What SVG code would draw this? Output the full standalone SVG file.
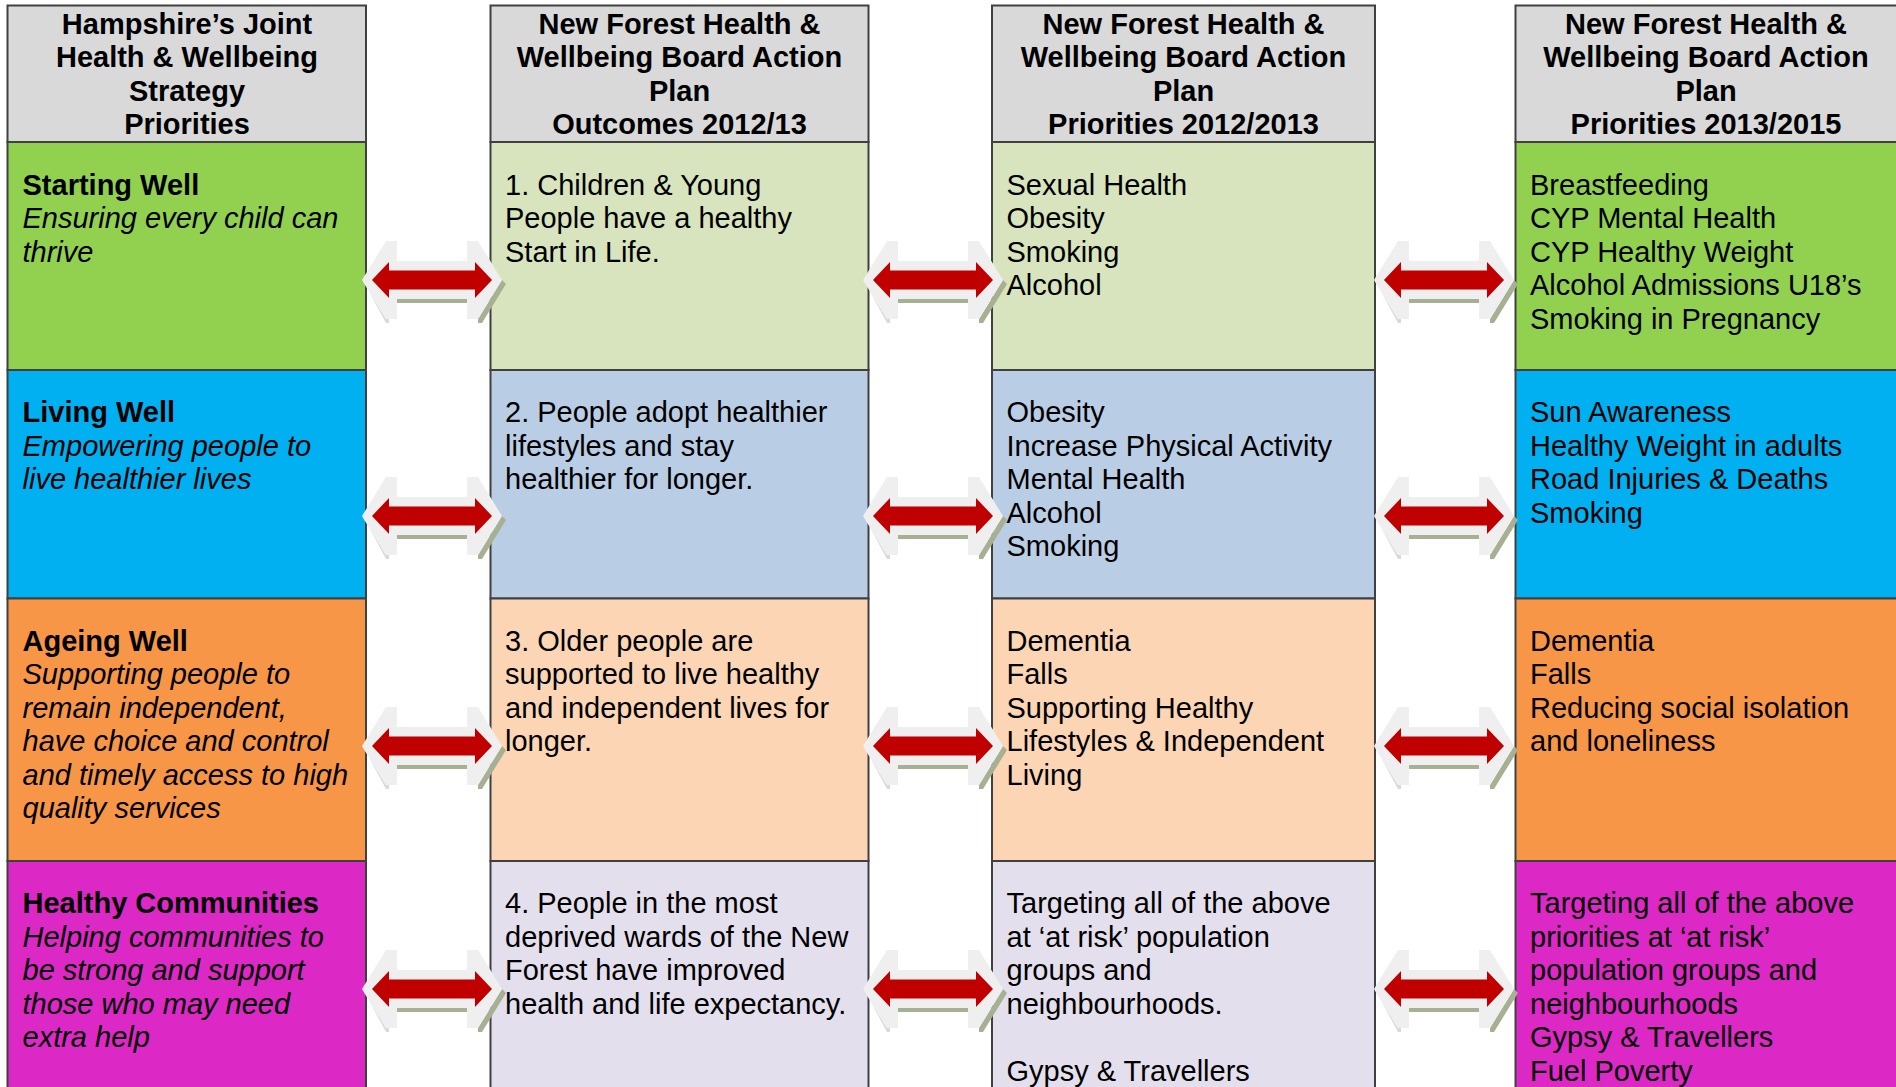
<svg xmlns="http://www.w3.org/2000/svg" xmlns:xlink="http://www.w3.org/1999/xlink" width="1896" height="1087" viewBox="0 0 1896 1087">
<style>
.t{font-family:"Liberation Sans",Arial,sans-serif;font-size:29px;fill:#000}
.h{font-weight:bold;text-anchor:middle}
.b{font-weight:bold}
.i{font-style:italic}
.cell{stroke:#404040;stroke-width:2}
.hd{fill:#d9d9d9}
.g1{fill:#92d050}.b1{fill:#00b0f0}.o1{fill:#f79646}.m1{fill:#dc28c4}
.g2{fill:#d7e4bd}.b2{fill:#b9cde5}.o2{fill:#fcd5b5}.m2{fill:#e4dfec}
</style>
<defs>
<g id="arrow">
<polygon points="-70,0 -67,4 -46,43 -43,43 -43,39 -46,39" fill="#dadada"/>
<rect x="-35" y="19" width="70" height="4" fill="#a7b092"/>
<polygon points="70,0 74,4 50,43 46,43 46,39" fill="#a7b092"/>
<path d="M-70,0 L-46,-39 L-35,-39 L-35,-19 L35,-19 L35,-39 L46,-39 L70,0 L46,39 L35,39 L35,19 L-35,19 L-35,39 L-46,39 Z" fill="#efefef"/>
<path d="M-60,0 L-43,-18 L-43,-9.5 L43,-9.5 L43,-18 L60,0 L43,18 L43,9.5 L-43,9.5 L-43,18 Z" fill="#c00000"/>
</g>
</defs>
<rect width="1896" height="1087" fill="#fff"/>

<g id="col1">
<g id="c1-header"><rect class="cell hd" x="7.5" y="5.5" width="358.5" height="136.5"/>
<text class="t h" x="187" y="33.5">Hampshire’s Joint</text><text class="t h" x="187" y="67">Health &amp; Wellbeing</text><text class="t h" x="187" y="100.5">Strategy</text><text class="t h" x="187" y="134">Priorities</text></g>
<g id="c1-r1"><rect class="cell g1" x="7.5" y="142" width="358.5" height="228"/>
<text class="t" x="22.5" y="194.5"><tspan class="b">Starting Well</tspan><tspan class="i" x="22.5" dy="33.5">Ensuring every child can</tspan><tspan class="i" x="22.5" dy="33.5">thrive</tspan></text></g>
<g id="c1-r2"><rect class="cell b1" x="7.5" y="370" width="358.5" height="228.5"/>
<text class="t" x="22.5" y="422"><tspan class="b">Living Well</tspan><tspan class="i" x="22.5" dy="33.5">Empowering people to</tspan><tspan class="i" x="22.5" dy="33.5">live healthier lives</tspan></text></g>
<g id="c1-r3"><rect class="cell o1" x="7.5" y="598.5" width="358.5" height="262.5"/>
<text class="t" x="22.5" y="650.5"><tspan class="b">Ageing Well</tspan><tspan class="i" x="22.5" dy="33.5">Supporting people to</tspan><tspan class="i" x="22.5" dy="33.5">remain independent,</tspan><tspan class="i" x="22.5" dy="33.5">have choice and control</tspan><tspan class="i" x="22.5" dy="33.5">and timely access to high</tspan><tspan class="i" x="22.5" dy="33.5">quality services</tspan></text></g>
<g id="c1-r4"><rect class="cell m1" x="7.5" y="861" width="358.5" height="240"/>
<text class="t" x="22.5" y="913"><tspan class="b">Healthy Communities</tspan><tspan class="i" x="22.5" dy="33.5">Helping communities to</tspan><tspan class="i" x="22.5" dy="33.5">be strong and support</tspan><tspan class="i" x="22.5" dy="33.5">those who may need</tspan><tspan class="i" x="22.5" dy="33.5">extra help</tspan></text></g>
</g>

<g id="col2">
<g id="c2-header"><rect class="cell hd" x="490.5" y="5.5" width="378" height="136.5"/>
<text class="t h" x="679.5" y="33.5">New Forest Health &amp;</text><text class="t h" x="679.5" y="67">Wellbeing Board Action</text><text class="t h" x="679.5" y="100.5">Plan</text><text class="t h" x="679.5" y="134">Outcomes 2012/13</text></g>
<g id="c2-r1"><rect class="cell g2" x="490.5" y="142" width="378" height="228"/>
<text class="t" x="505" y="194.5"><tspan>1. Children &amp; Young</tspan><tspan x="505" dy="33.5">People have a healthy</tspan><tspan x="505" dy="33.5">Start in Life.</tspan></text></g>
<g id="c2-r2"><rect class="cell b2" x="490.5" y="370" width="378" height="228.5"/>
<text class="t" x="505" y="422"><tspan>2. People adopt healthier</tspan><tspan x="505" dy="33.5">lifestyles and stay</tspan><tspan x="505" dy="33.5">healthier for longer.</tspan></text></g>
<g id="c2-r3"><rect class="cell o2" x="490.5" y="598.5" width="378" height="262.5"/>
<text class="t" x="505" y="650.5"><tspan>3. Older people are</tspan><tspan x="505" dy="33.5">supported to live healthy</tspan><tspan x="505" dy="33.5">and independent lives for</tspan><tspan x="505" dy="33.5">longer.</tspan></text></g>
<g id="c2-r4"><rect class="cell m2" x="490.5" y="861" width="378" height="240"/>
<text class="t" x="505" y="913"><tspan>4. People in the most</tspan><tspan x="505" dy="33.5">deprived wards of the New</tspan><tspan x="505" dy="33.5">Forest have improved</tspan><tspan x="505" dy="33.5">health and life expectancy.</tspan></text></g>
</g>

<g id="col3">
<g id="c3-header"><rect class="cell hd" x="992" y="5.5" width="383" height="136.5"/>
<text class="t h" x="1183.5" y="33.5">New Forest Health &amp;</text><text class="t h" x="1183.5" y="67">Wellbeing Board Action</text><text class="t h" x="1183.5" y="100.5">Plan</text><text class="t h" x="1183.5" y="134">Priorities 2012/2013</text></g>
<g id="c3-r1"><rect class="cell g2" x="992" y="142" width="383" height="228"/>
<text class="t" x="1006.5" y="194.5"><tspan>Sexual Health</tspan><tspan x="1006.5" dy="33.5">Obesity</tspan><tspan x="1006.5" dy="33.5">Smoking</tspan><tspan x="1006.5" dy="33.5">Alcohol</tspan></text></g>
<g id="c3-r2"><rect class="cell b2" x="992" y="370" width="383" height="228.5"/>
<text class="t" x="1006.5" y="422"><tspan>Obesity</tspan><tspan x="1006.5" dy="33.5">Increase Physical Activity</tspan><tspan x="1006.5" dy="33.5">Mental Health</tspan><tspan x="1006.5" dy="33.5">Alcohol</tspan><tspan x="1006.5" dy="33.5">Smoking</tspan></text></g>
<g id="c3-r3"><rect class="cell o2" x="992" y="598.5" width="383" height="262.5"/>
<text class="t" x="1006.5" y="650.5"><tspan>Dementia</tspan><tspan x="1006.5" dy="33.5">Falls</tspan><tspan x="1006.5" dy="33.5">Supporting Healthy</tspan><tspan x="1006.5" dy="33.5">Lifestyles &amp; Independent</tspan><tspan x="1006.5" dy="33.5">Living</tspan></text></g>
<g id="c3-r4"><rect class="cell m2" x="992" y="861" width="383" height="240"/>
<text class="t" x="1006.5" y="913"><tspan>Targeting all of the above</tspan><tspan x="1006.5" dy="33.5">at ‘at risk’ population</tspan><tspan x="1006.5" dy="33.5">groups and</tspan><tspan x="1006.5" dy="33.5">neighbourhoods.</tspan><tspan x="1006.5" dy="67">Gypsy &amp; Travellers</tspan></text></g>
</g>

<g id="col4">
<g id="c4-header"><rect class="cell hd" x="1515.5" y="5.5" width="390" height="136.5"/>
<text class="t h" x="1706" y="33.5">New Forest Health &amp;</text><text class="t h" x="1706" y="67">Wellbeing Board Action</text><text class="t h" x="1706" y="100.5">Plan</text><text class="t h" x="1706" y="134">Priorities 2013/2015</text></g>
<g id="c4-r1"><rect class="cell g1" x="1515.5" y="142" width="390" height="228"/>
<text class="t" x="1530" y="194.5"><tspan>Breastfeeding</tspan><tspan x="1530" dy="33.5">CYP Mental Health</tspan><tspan x="1530" dy="33.5">CYP Healthy Weight</tspan><tspan x="1530" dy="33.5">Alcohol Admissions U18’s</tspan><tspan x="1530" dy="33.5">Smoking in Pregnancy</tspan></text></g>
<g id="c4-r2"><rect class="cell b1" x="1515.5" y="370" width="390" height="228.5"/>
<text class="t" x="1530" y="422"><tspan>Sun Awareness</tspan><tspan x="1530" dy="33.5">Healthy Weight in adults</tspan><tspan x="1530" dy="33.5">Road Injuries &amp; Deaths</tspan><tspan x="1530" dy="33.5">Smoking</tspan></text></g>
<g id="c4-r3"><rect class="cell o1" x="1515.5" y="598.5" width="390" height="262.5"/>
<text class="t" x="1530" y="650.5"><tspan>Dementia</tspan><tspan x="1530" dy="33.5">Falls</tspan><tspan x="1530" dy="33.5">Reducing social isolation</tspan><tspan x="1530" dy="33.5">and loneliness</tspan></text></g>
<g id="c4-r4"><rect class="cell m1" x="1515.5" y="861" width="390" height="240"/>
<text class="t" x="1530" y="913"><tspan>Targeting all of the above</tspan><tspan x="1530" dy="33.5">priorities at ‘at risk’</tspan><tspan x="1530" dy="33.5">population groups and</tspan><tspan x="1530" dy="33.5">neighbourhoods</tspan><tspan x="1530" dy="33.5">Gypsy &amp; Travellers</tspan><tspan x="1530" dy="33.5">Fuel Poverty</tspan></text></g>
</g>

<g id="connectors">
<use xlink:href="#arrow" href="#arrow" x="432" y="280"/>
<use xlink:href="#arrow" href="#arrow" x="933" y="280"/>
<use xlink:href="#arrow" href="#arrow" x="1444" y="280"/>
<use xlink:href="#arrow" href="#arrow" x="432" y="516"/>
<use xlink:href="#arrow" href="#arrow" x="933" y="516"/>
<use xlink:href="#arrow" href="#arrow" x="1444" y="516"/>
<use xlink:href="#arrow" href="#arrow" x="432" y="746"/>
<use xlink:href="#arrow" href="#arrow" x="933" y="746"/>
<use xlink:href="#arrow" href="#arrow" x="1444" y="746"/>
<use xlink:href="#arrow" href="#arrow" x="432" y="989"/>
<use xlink:href="#arrow" href="#arrow" x="933" y="989"/>
<use xlink:href="#arrow" href="#arrow" x="1444" y="989"/>
</g>
</svg>
